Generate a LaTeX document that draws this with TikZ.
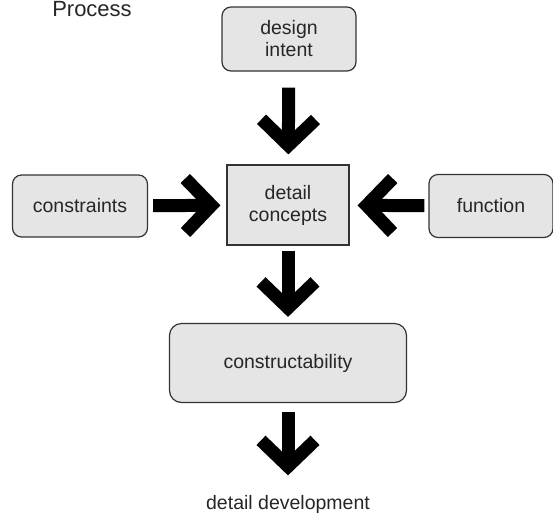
\documentclass[tikz,border=0pt]{standalone}
\usepackage{fontspec}
\setmainfont{Liberation Sans}
\usetikzlibrary{arrows.meta}
\begin{document}
\begin{tikzpicture}[x=1pt,y=-1pt,
    box/.style={draw=black!80,fill=black!10,line width=1.2pt,rounded corners=9pt,
      align=center,inner sep=0pt,text=black!85,font=\fontsize{19.5}{22}\selectfont},
    bigarrow/.style={line width=13pt,-{Straight Barb[length=26pt,width=54pt]}}]

    \useasboundingbox (0,0) rectangle (553,515);

    %title at the top:
    \node[anchor=base,text=black!85,font=\fontsize{22}{22}\selectfont] (title) at (92,16) {Process};

    %boxes:
    \node[box,minimum width=134pt,minimum height=64pt] (intent) at (289,39) {design\\intent};
    \node[box,minimum width=135pt,minimum height=62pt] (constraints) at (80,206) {constraints};
    \node[box,rounded corners=0pt,minimum width=122pt,minimum height=80pt] (concepts) at (288,205) {detail\\concepts};
    \node[box,minimum width=124pt,minimum height=63pt] (function) at (491,206) {function};
    \node[box,rounded corners=12pt,minimum width=237pt,minimum height=79pt] (build) at (288,363) {constructability};
    \node[text=black!85,font=\fontsize{19.5}{19.5}\selectfont] (development) at (288,504) {detail development};

    %arrows:
    \draw[bigarrow,shorten <=16pt,shorten >=10pt] (intent) -- (concepts);
    \draw[bigarrow,shorten <=5pt,shorten >=6pt] (constraints) -- (concepts);
    \draw[bigarrow,shorten <=4pt,shorten >=8pt] (function) -- (concepts);
    \draw[bigarrow,shorten <=5pt,shorten >=6pt] (concepts) -- (build);
    \draw[bigarrow,shorten <=9pt,shorten >=16pt] (build) -- (development);

\end{tikzpicture}
\end{document}
